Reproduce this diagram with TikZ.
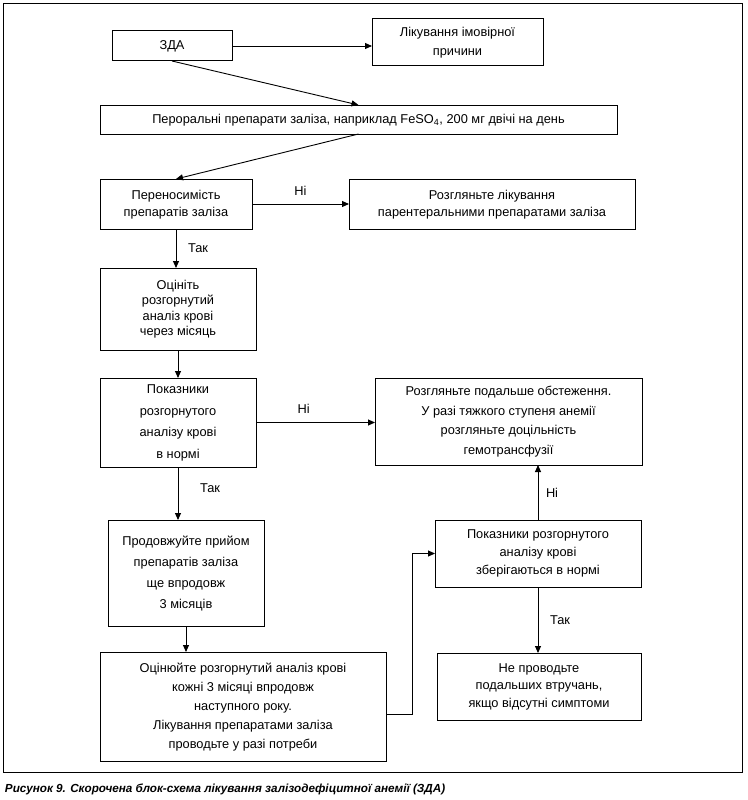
\documentclass[tikz,border=0pt]{standalone}
\usepackage{fontspec}
\setmainfont{Liberation Sans}
\usetikzlibrary{arrows.meta}

\begin{document}
\begin{tikzpicture}[x=1pt,y=-1pt,line width=0.9pt,every node/.style={font=\fontsize{12.8}{18}\selectfont, align=center, inner sep=0pt, outer sep=0pt},
box/.style 2 args={draw,line width=1pt,minimum width=#1pt,minimum height=#2pt,text depth=2pt},
arr/.style={-{Triangle[length=7pt,width=6pt]}},
lbl/.style={font=\fontsize{12.8}{14}\selectfont}]
\useasboundingbox (0,0) rectangle (747,800);
\draw[line width=1pt] (3,4) rectangle (742,772);
\node[box={120}{30}] (zda) at (172,46) {ЗДА};
\node[box={171}{47},font=\fontsize{12.8}{19}\selectfont] (cause) at (457.5,42.5) {Лікування імовірної\\причини};
\node[box={517}{29}] (oral) at (358.5,119.5) {Пероральні препарати заліза, наприклад FeSO\textsubscript{4}, 200 мг двічі на день};
\node[box={152}{50},font=\fontsize{12.8}{17}\selectfont] (toler) at (176,204) {Переносимість\\препаратів заліза};
\node[box={286}{50},font=\fontsize{12.8}{17}\selectfont] (parent) at (492,204) {Розгляньте лікування\\парентеральними препаратами заліза};
\node[box={156}{82},font=\fontsize{12.8}{15.5}\selectfont] (assess) at (178,309) {Оцініть\\розгорнутий\\аналіз крові\\через місяць};
\node[box={156}{89},font=\fontsize{12.8}{21.5}\selectfont] (normal) at (178,422.5) {Показники\\розгорнутого\\аналізу крові\\в нормі};
\node[box={267}{87},font=\fontsize{12.8}{19.5}\selectfont] (further) at (508.5,421.5) {Розгляньте подальше обстеження.\\У разі тяжкого ступеня анемії\\розгляньте доцільність\\гемотрансфузії};
\node[box={156}{106},font=\fontsize{12.8}{21}\selectfont] (cont) at (186,573) {Продовжуйте прийом\\препаратів заліза\\ще впродовж\\3 місяців};
\node[box={286}{109},font=\fontsize{12.8}{19}\selectfont] (monitor) at (243,706.5) {Оцінюйте розгорнутий аналіз крові\\кожні 3 місяці впродовж\\наступного року.\\Лікування препаратами заліза\\проводьте у разі потреби};
\node[box={206}{67}] (kept) at (538,553.5) {Показники розгорнутого\\аналізу крові\\зберігаються в нормі};
\node[box={204}{67},font=\fontsize{12.8}{17.5}\selectfont] (nofurther) at (539,686.5) {Не проводьте\\подальших втручань,\\якщо відсутні симптоми};
\coordinate (bend) at (412,714);
\draw[arr] (zda.east) -- (zda.east -| cause.west);
\draw[arr] (zda.south) -- (oral.north);
\draw[arr] (oral.south) -- (toler.north);
\draw[arr] (toler.east) -- node[lbl,above=9pt] (no1) {Ні} (toler.east -| parent.west);
\draw[arr] (toler.south) -- node[lbl,right=12pt] (yes1) {Так} (toler.south |- assess.north);
\draw[arr] (assess.south) -- (normal.north);
\draw[arr] (normal.east) -- node[lbl,above=9pt,pos=0.4] (no2) {Ні} (normal.east -| further.west);
\draw[arr] (normal.south) -- node[lbl,right=22pt,pos=0.4] (yes2) {Так} (normal.south |- cont.north);
\draw[arr] (cont.south) -- (cont.south |- monitor.north);
\draw[arr] (monitor.east |- bend) -- (bend) |- (kept.west);
\draw[arr] (kept.north) -- node[lbl,right=8pt] (no3) {Ні} (kept.north |- further.south);
\draw[arr] (kept.south) -- node[lbl,right=12pt] (yes3) {Так} (kept.south |- nofurther.north);
\node[anchor=base west,font=\fontsize{11.7}{13}\selectfont\bfseries\itshape] (caption) at (5,792) {Рисунок 9. Скорочена блок-схема лікування залізодефіцитної анемії (ЗДА)};
\end{tikzpicture}
\end{document}
